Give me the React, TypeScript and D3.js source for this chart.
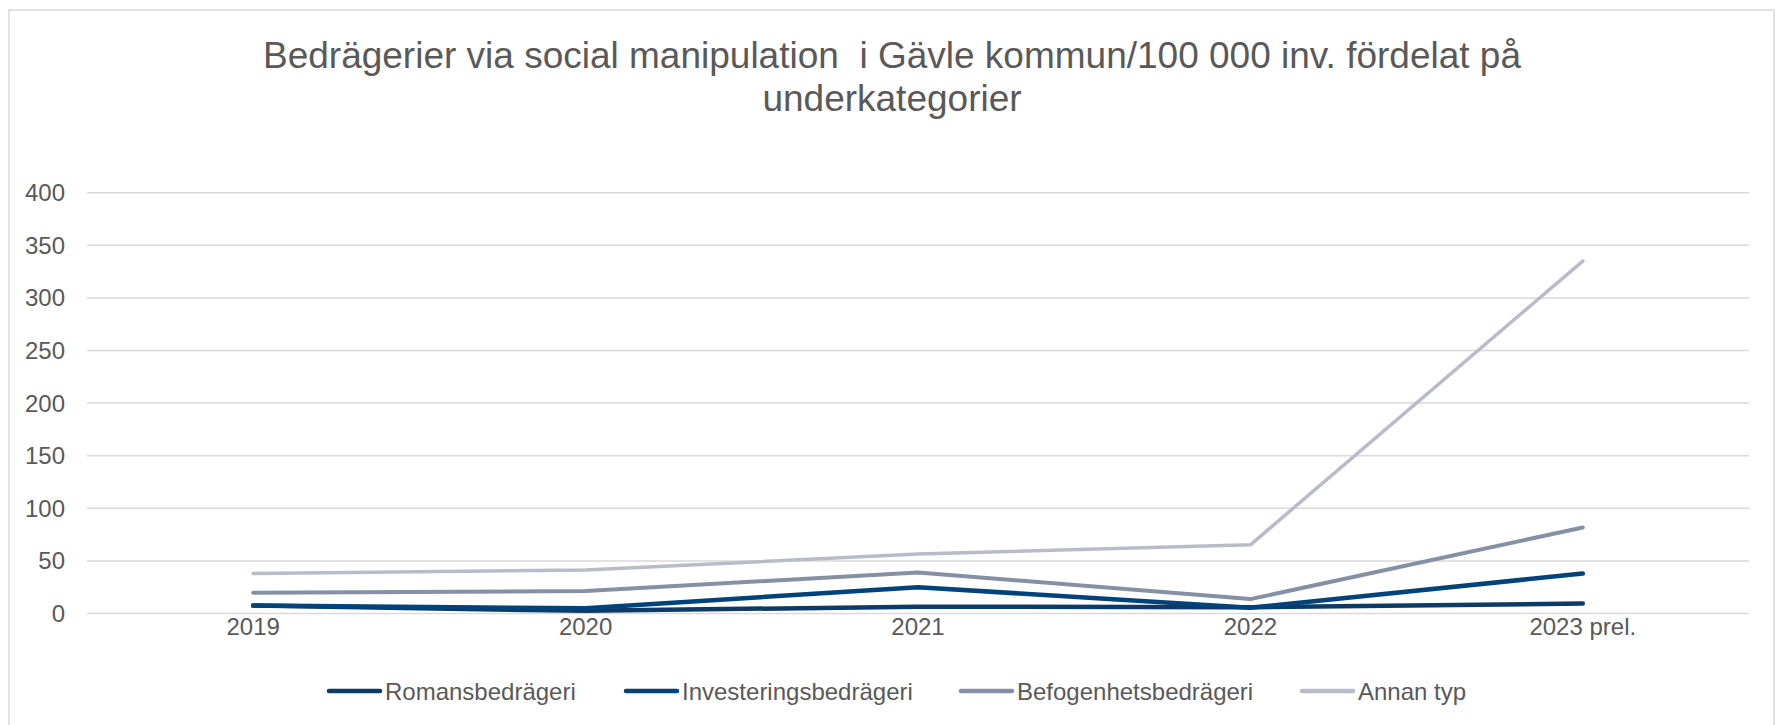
import React from 'react';
import * as d3 from 'd3';

const years = ['2019', '2020', '2021', '2022', '2023 prel.'];
const romans = [7.5, 2.5, 6.5, 6, 9.5];
const investering = [7.5, 5, 25, 5.5, 38];
const befogenhet = [19.7, 21.3, 39, 13.7, 81.8];
const annanTyp = [38, 41.3, 56.5, 65.3, 335];
const yTicks = [0, 50, 100, 150, 200, 250, 300, 350, 400];

const series = [
  { name: 'Romansbedrägeri', values: romans, color: '#0e3a66', width: 4.5 },
  { name: 'Investeringsbedrägeri', values: investering, color: '#00427a', width: 4.5 },
  { name: 'Befogenhetsbedrägeri', values: befogenhet, color: '#8690a5', width: 4 },
  { name: 'Annan typ', values: annanTyp, color: '#b8bcc9', width: 3.5 },
];

const W = 1777;
const H = 725;
const font = '"Liberation Sans", Arial, sans-serif';

export default function App() {
  const x = d3.scaleBand().domain(years).range([87, 1749]);
  const y = d3.scaleLinear().domain([0, 400]).range([613.5, 192.7]);
  const cx = (d: string) => (x(d) ?? 0) + x.bandwidth() / 2;

  const line = d3
    .line<number>()
    .x((_, i) => cx(years[i]))
    .y((d) => y(d));

  // legend item left edges
  const legendX = [327, 624, 959, 1300];

  return (
    <svg
      width={W}
      height={H}
      style={{ position: 'absolute', left: 0, top: 0, background: '#fff' }}
      fontFamily={font}
    >
      <rect x={9} y={10} width={1765} height={740} fill="#fff" stroke="#d9d9d9" strokeWidth={1.5} />

      <text x={892} y={68} textAnchor="middle" fontSize={37} fill="#595959">
        Bedrägerier via social manipulation{'\u00a0'} i Gävle kommun/100 000 inv. fördelat på
      </text>
      <text x={892} y={111} textAnchor="middle" fontSize={37} fill="#595959">
        underkategorier
      </text>

      {yTicks.map((t) => (
        <g key={t}>
          <line x1={87} x2={1749} y1={y(t)} y2={y(t)} stroke="#d9d9d9" strokeWidth={1.5} />
          <text x={65} y={y(t) + 8.5} textAnchor="end" fontSize={24} fill="#595959">
            {t}
          </text>
        </g>
      ))}

      {years.map((yr) => (
        <text key={yr} x={cx(yr)} y={635} textAnchor="middle" fontSize={24} fill="#595959">
          {yr}
        </text>
      ))}

      {series.map((s) => (
        <path
          key={s.name}
          d={line(s.values) ?? ''}
          fill="none"
          stroke={s.color}
          strokeWidth={s.width}
          strokeLinecap="round"
          strokeLinejoin="round"
        />
      ))}

      {series.map((s, i) => (
        <g key={s.name} transform={`translate(${legendX[i]},691)`}>
          <line x1={2} x2={53} y1={0} y2={0} stroke={s.color} strokeWidth={4.5} strokeLinecap="round" />
          <text x={58} y={8.5} fontSize={24} fill="#595959">
            {s.name}
          </text>
        </g>
      ))}
    </svg>
  );
}
